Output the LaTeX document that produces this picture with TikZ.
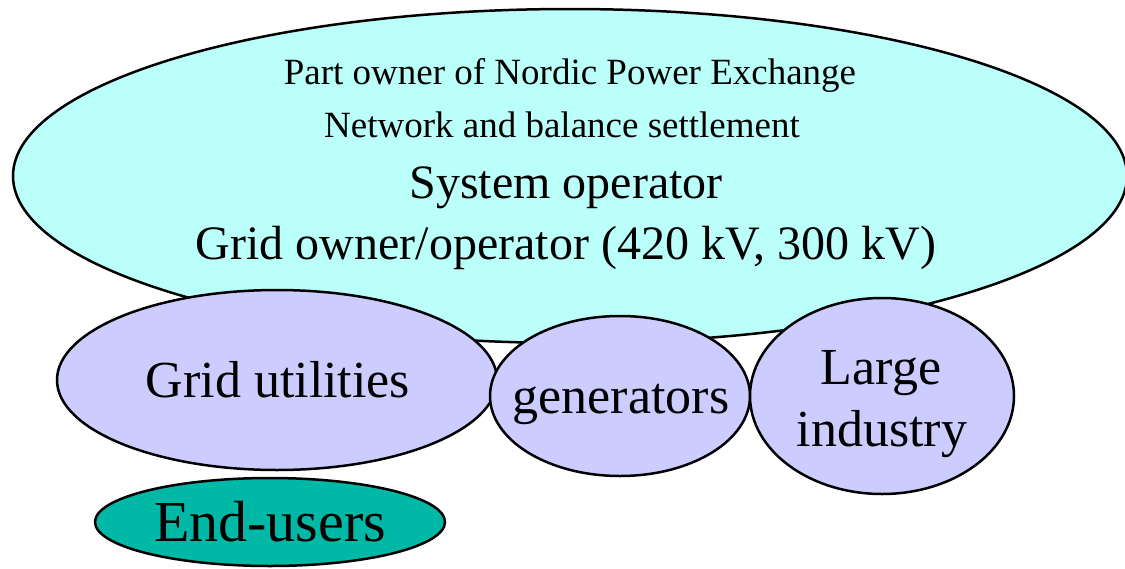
\documentclass[tikz,border=0pt]{standalone}
\usepackage{fontspec}
\setmainfont{Liberation Serif}
\usetikzlibrary{shapes.geometric}
\definecolor{bigcyan}{RGB}{187,255,250}
\definecolor{lav}{RGB}{204,204,255}
\definecolor{teal2}{RGB}{0,184,166}
\tikzset{
  oval/.style={draw=black, line width=2.5pt, ellipse, inner sep=0pt, outer sep=0pt},
  lbl/.style={anchor=base, inner sep=0pt, text=black},
}
\newcommand{\fs}[1]{\fontsize{#1}{#1}\selectfont}
\begin{document}
\begin{tikzpicture}[x=1pt,y=-1pt]
\useasboundingbox (0,0) rectangle (1125,568);
\node[oval, fill=bigcyan, minimum width=1114pt, minimum height=334pt] (so) at (570,176) {};
\node[oval, fill=lav, minimum width=440pt, minimum height=180pt] (gu) at (277,380) {};
\node[oval, fill=lav, minimum width=260pt, minimum height=160pt] (gen) at (620,396) {};
\node[oval, fill=lav, minimum width=264pt, minimum height=196pt] (li) at (882,396) {};
\node[oval, fill=teal2, minimum width=350pt, minimum height=88pt] (eu) at (270,522) {};
\node[lbl] (t1) at (570,84) {\fs{37}Part owner of Nordic Power Exchange};
\node[lbl] (t2) at (562,137) {\fs{37}Network and balance settlement};
\node[lbl] (t3) at (566,198) {\fs{48}System operator};
\node[lbl] (t4) at (566,259) {\fs{48}Grid owner/operator (420 kV, 300 kV)};
\node[lbl] (t5) at (278,397) {\fs{52}Grid utilities};
\node[lbl] (t6) at (621,413) {\fs{52}generators};
\node[lbl] (t7) at (881,384) {\fs{52}Large};
\node[lbl] (t8) at (882,446) {\fs{52}industry};
\node[lbl] (t9) at (270,541) {\fs{58}End-users};
\end{tikzpicture}
\end{document}
